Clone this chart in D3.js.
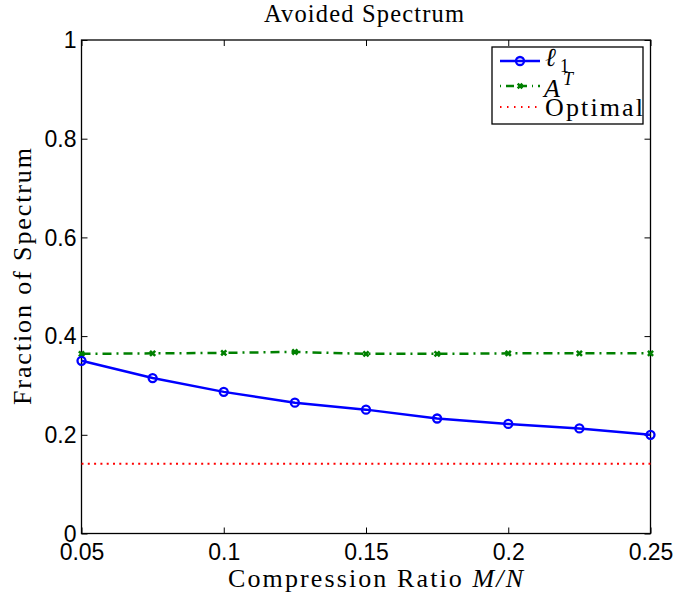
<!DOCTYPE html>
<html><head><meta charset="utf-8">
<script src="https://cdn.jsdelivr.net/npm/d3@7"></script>
<style>body{margin:0;background:#fff;} svg{display:block;}</style>
</head><body>
<svg id="c" width="699" height="597"></svg>
<script>
const ratios = [0.05, 0.075, 0.1, 0.125, 0.15, 0.175, 0.2, 0.225, 0.25];
const l1Values = [0.350, 0.315, 0.287, 0.265, 0.251, 0.233, 0.222, 0.213, 0.200];
const atValues = [0.364, 0.365, 0.366, 0.368, 0.364, 0.364, 0.365, 0.365, 0.365];
const optimalValues = [0.1415, 0.1415, 0.1415, 0.1415, 0.1415, 0.1415, 0.1415, 0.1415, 0.1415];
const xTicks = [0.05, 0.1, 0.15, 0.2, 0.25];
const yTicks = [0, 0.2, 0.4, 0.6, 0.8, 1];

(function () {
const svg = d3.select('#c');
const L = 81.5, R = 650.5, T = 40, B = 533.5;
const x = d3.scaleLinear().domain([0.05, 0.25]).range([L, R]);
const y = d3.scaleLinear().domain([0, 1]).range([B, T]);
const serif = '"Liberation Serif", "DejaVu Serif", serif';
const sans = '"Liberation Sans", Arial, sans-serif';
const fitSpacing = (sel, w) => sel.attr('textLength', w).attr('lengthAdjust', 'spacing');

// axes with inward ticks
const tickLen = 6;
const ax = svg.append('g');
const gBottom = ax.append('g').attr('transform', `translate(0,${B})`)
  .call(d3.axisBottom(x).tickValues(xTicks).tickSize(-tickLen).tickPadding(10).tickFormat(d => String(+d.toFixed(3))));
ax.append('g').attr('transform', `translate(0,${T})`)
  .call(d3.axisTop(x).tickValues(xTicks).tickSize(-tickLen).tickFormat(''));
const gLeft = ax.append('g').attr('transform', `translate(${L},0)`)
  .call(d3.axisLeft(y).tickValues(yTicks).tickSize(-tickLen).tickPadding(5).tickFormat(d => String(+d.toFixed(1))));
ax.append('g').attr('transform', `translate(${R},0)`)
  .call(d3.axisRight(y).tickValues(yTicks).tickSize(-tickLen).tickFormat(''));
ax.selectAll('.domain').remove();
ax.selectAll('.tick line').attr('stroke', '#000').attr('stroke-width', 1);
ax.selectAll('text').attr('fill', '#000').attr('font-family', sans).attr('font-size', 23);
gBottom.selectAll('text').attr('y', 0).attr('dy', 0).attr('transform', 'translate(0,26.5)');
gLeft.selectAll('text').attr('dy', '0.34em');
svg.append('rect').attr('x', L).attr('y', T).attr('width', R - L).attr('height', B - T)
  .attr('fill', 'none').attr('stroke', '#000').attr('stroke-width', 1.3);

// data lines
const pts = vals => ratios.map((r, i) => [r, vals[i]]);
const line = d3.line().x(d => x(d[0])).y(d => y(d[1]));

svg.append('path').datum(pts(optimalValues)).attr('d', line)
  .attr('fill', 'none').attr('stroke', '#ff0000').attr('stroke-width', 2).attr('stroke-dasharray', '2,4.3');

svg.append('path').datum(pts(atValues)).attr('d', line)
  .attr('fill', 'none').attr('stroke', '#008000').attr('stroke-width', 2.5).attr('stroke-dasharray', '9,5,2,5');
const xMark = (g, cx, cy, s) => {
  g.append('path').attr('d', `M${cx - s},${cy - s}L${cx + s},${cy + s}M${cx - s},${cy + s}L${cx + s},${cy - s}`)
    .attr('stroke', '#008000').attr('stroke-width', 2.5).attr('fill', 'none');
};
const gx = svg.append('g');
pts(atValues).forEach(d => xMark(gx, x(d[0]), y(d[1]), 2.6));

svg.append('path').datum(pts(l1Values)).attr('d', line)
  .attr('fill', 'none').attr('stroke', '#0000ff').attr('stroke-width', 2.5);
svg.append('g').selectAll('circle').data(pts(l1Values)).join('circle')
  .attr('cx', d => x(d[0])).attr('cy', d => y(d[1])).attr('r', 4)
  .attr('fill', 'none').attr('stroke', '#0000ff').attr('stroke-width', 2.3);

// legend
const lg = svg.append('g');
lg.append('rect').attr('x', 492).attr('y', 47).attr('width', 151).attr('height', 77)
  .attr('fill', '#fff').attr('stroke', '#000').attr('stroke-width', 1.3);
const rows = [61, 86, 107];
lg.append('line').attr('x1', 500).attr('x2', 540).attr('y1', rows[0]).attr('y2', rows[0])
  .attr('stroke', '#0000ff').attr('stroke-width', 2.5);
lg.append('circle').attr('cx', 520).attr('cy', rows[0]).attr('r', 4)
  .attr('fill', 'none').attr('stroke', '#0000ff').attr('stroke-width', 2.3);
lg.append('line').attr('x1', 500).attr('x2', 540).attr('y1', rows[1]).attr('y2', rows[1])
  .attr('stroke', '#008000').attr('stroke-width', 2.5).attr('stroke-dasharray', '1,5,8,5,8,5');
xMark(lg, 520, rows[1], 2.3);
lg.append('line').attr('x1', 500).attr('x2', 540).attr('y1', rows[2]).attr('y2', rows[2])
  .attr('stroke', '#ff0000').attr('stroke-width', 2).attr('stroke-dasharray', '1.5,5.5');

const t1 = lg.append('text').attr('x', 545).attr('y', 66).attr('font-family', serif).attr('font-size', 26);
t1.append('tspan').attr('font-style', 'italic').text('ℓ');
t1.append('tspan').attr('font-size', 18).attr('x', 560).attr('y', 72).text('1');
const t2 = lg.append('text').attr('x', 544).attr('y', 97).attr('font-family', serif).attr('font-size', 26);
t2.append('tspan').attr('font-style', 'italic').text('A');
t2.append('tspan').attr('font-style', 'italic').attr('font-size', 18).attr('x', 563).attr('y', 85).text('T');
fitSpacing(lg.append('text').attr('x', 545).attr('y', 116).attr('font-family', serif).attr('font-size', 26).text('Optimal'), 98);

// titles
fitSpacing(svg.append('text').attr('x', 264).attr('y', 22)
  .attr('font-family', serif).attr('font-size', 24.5).text('Avoided Spectrum'), 200);
const xl = svg.append('text').attr('x', 228).attr('y', 586.5)
  .attr('font-family', serif).attr('font-size', 26);
xl.append('tspan').text('Compression Ratio ');
xl.append('tspan').attr('font-style', 'italic').text('M/N');
fitSpacing(xl, 295);
fitSpacing(svg.append('text').attr('transform', `translate(31,405) rotate(-90)`)
  .attr('font-family', serif).attr('font-size', 26).text('Fraction of Spectrum'), 257);
})();
</script>
</body></html>
